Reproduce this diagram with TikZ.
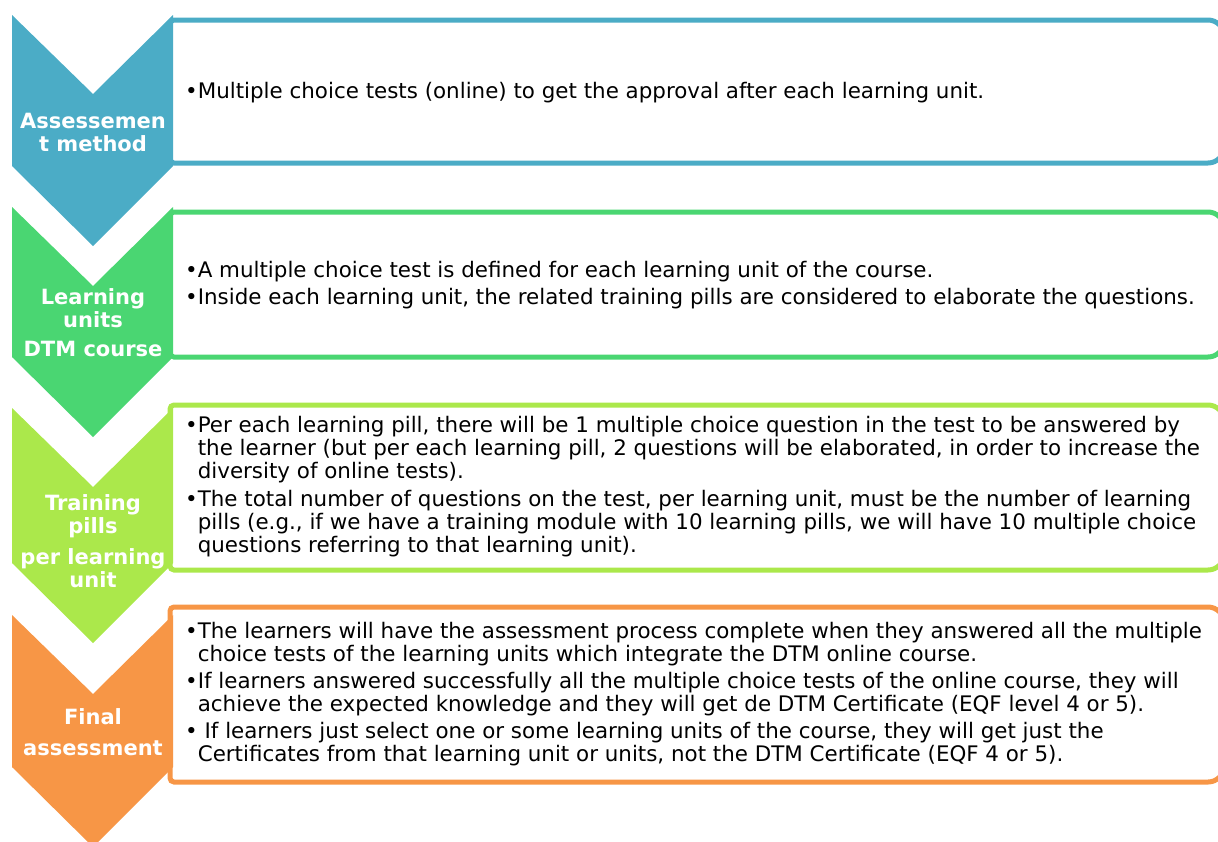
\documentclass[tikz,border=0pt]{standalone}
\usepackage{fontspec}
\setmainfont{DejaVu Sans}
\definecolor{stepblue}{HTML}{4BACC6}
\definecolor{stepgreen}{HTML}{4AD672}
\definecolor{steplime}{HTML}{ABE84B}
\definecolor{steporange}{HTML}{F79646}
\newcommand{\hang}{\hphantom{\textbullet}}
\begin{document}
\begin{tikzpicture}[x=1pt, y=-1pt,
    boxline/.style={line width=5pt, fill=white},
    steplabel/.style={white, align=center, font=\fontsize{21}{23}\selectfont\bfseries},
    boxtext/.style={anchor=west, align=left, inner sep=0pt, font=\fontsize{21.4}{23}\selectfont}]
    \useasboundingbox (0,0) rectangle (1218,841);
    \clip (0,0) rectangle (1218,841);

    % Boxes
    \foreach \t/\b/\c in {20/163/stepblue, 212/357/stepgreen, 405/570/steplime, 607/782/steporange}
        \draw[draw=\c, boxline] (600,\t) [rounded corners=16pt] -- (1224,\t) -- (1224,\b) -- (600,\b)
            [rounded corners=4pt] -- (170,\b) -- (170,\t) -- cycle;

    % Chevrons
    \foreach \t/\b/\c in {15/166/stepblue, 207/357/stepgreen, 408/563/steplime, 615/767/steporange}
        \fill[\c] (12,\t) -- (93,\t+79) -- (173,\t) -- (173,\b) -- (93,\b+80) -- (12,\b) -- cycle;

    % Step labels
    \node[steplabel] (assess) at (93,132) {Assessemen\\t method};
    \node[steplabel] (units) at (93,323) {Learning\\units\\[6pt]DTM course};
    \node[steplabel] (pills) at (93,541) {Training\\pills\\[8pt]per learning\\unit};
    \node[steplabel] (final) at (93,732) {Final\\[8pt]assessment};

    % Box texts
    \node[boxtext] (assessText) at (185,93)
        {\textbullet Multiple choice tests (online) to get the approval after each learning unit.};
    \node[boxtext] (unitsText) at (185,285)
        {\textbullet A multiple choice test is defined for each learning unit of the course.\\[4pt]
         \textbullet Inside each learning unit, the related training pills are considered to elaborate the questions.};
    \node[boxtext] (pillsText) at (185,487)
        {\textbullet Per each learning pill, there will be 1 multiple choice question in the test to be answered by\\
         \hang the learner (but per each learning pill, 2 questions will be elaborated, in order to increase the\\
         \hang diversity of online tests).\\[5pt]
         \textbullet The total number of questions on the test, per learning unit, must be the number of learning\\
         \hang pills (e.g., if we have a training module with 10 learning pills, we will have 10 multiple choice\\
         \hang questions referring to that learning unit).};
    \node[boxtext] (finalText) at (185,694)
        {\textbullet The learners will have the assessment process complete when they answered all the multiple\\
         \hang choice tests of the learning units which integrate the DTM online course.\\[4pt]
         \textbullet If learners answered successfully all the multiple choice tests of the online course, they will\\
         \hang achieve the expected knowledge and they will get de DTM Certificate (EQF level 4 or 5).\\[4pt]
         \textbullet{} If learners just select one or some learning units of the course, they will get just the\\
         \hang Certificates from that learning unit or units, not the DTM Certificate (EQF 4 or 5).};
\end{tikzpicture}
\end{document}
